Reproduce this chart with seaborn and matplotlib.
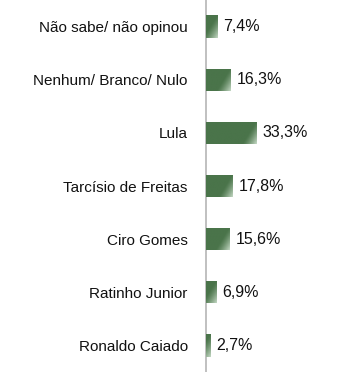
import numpy as np
import pandas as pd
import matplotlib
matplotlib.use('Agg')
import matplotlib.pyplot as plt
import seaborn as sns

categorias = ['Não sabe/ não opinou', 'Nenhum/ Branco/ Nulo', 'Lula', 'Tarcísio de Freitas',
              'Ciro Gomes', 'Ratinho Junior', 'Ronaldo Caiado']
valores = [7.4, 16.3, 33.3, 17.8, 15.6, 6.9, 2.7]
rotulos = ['7,4%', '16,3%', '33,3%', '17,8%', '15,6%', '6,9%', '2,7%']

df = pd.DataFrame({'cat': categorias, 'val': valores})

sns.set_style('white')
plt.rcParams['font.family'] = ['Liberation Sans', 'DejaVu Sans']

fig = plt.figure(figsize=(3.52, 3.72), dpi=100)
ax = fig.add_axes([0.585, 0.0, 0.415, 1.0])
sns.barplot(data=df, x='val', y='cat', orient='h', color='#4a744a', width=0.42,
            saturation=1, ax=ax)

XMAX = 97
ax.set_xlim(0, XMAX)
ax.set_ylim(6.5, -0.5)

# brilho claro no canto inferior direito de cada barra
pxx = 146 / XMAX      # pixels por unidade x
pxy = 372 / 7         # pixels por unidade y
escuro = np.array([0x4a, 0x74, 0x4a]) / 255
claro = np.array([0xc4, 0xd8, 0xc4]) / 255
for p in ax.patches:
    x0, y0 = p.get_x(), p.get_y()
    w, h = p.get_width(), p.get_height()
    nx, ny = 80, 30
    xs = np.linspace(x0, x0 + w, nx)
    ys = np.linspace(y0, y0 + h, ny)
    X, Y = np.meshgrid(xs, ys)
    u = (x0 + w - X) * pxx
    v = (y0 + h - Y) * pxy
    t = np.clip(1 - (u + 0.6 * v) / 14, 0, 1) ** 1.3
    img = escuro[None, None, :] * (1 - t[..., None]) + claro[None, None, :] * t[..., None]
    im = ax.imshow(img, extent=[x0, x0 + w, y0 + h, y0], aspect='auto', zorder=3,
                   interpolation='bilinear')
    im.set_clip_path(p)

for i, (v, r) in enumerate(zip(valores, rotulos)):
    ax.text(v + 4, i, r, va='center', ha='left', fontsize=11.5, color='#111111')

ax.set_xlabel('')
ax.set_ylabel('')
ax.set_xticks([])
for s in ['top', 'right', 'bottom']:
    ax.spines[s].set_visible(False)
ax.spines['left'].set_color('#b5b5b5')
ax.spines['left'].set_linewidth(1.2)

ax.set_yticks(range(len(categorias)))
ax.set_yticklabels(categorias, fontsize=11, color='#111111')
ax.tick_params(axis='y', which='major', length=0, pad=13)
ax.set_yticks(np.arange(-0.5, 7, 1), minor=True)
ax.tick_params(axis='y', which='minor', length=3.5, color='#b5b5b5', width=1.2)

fig.savefig('out.png', dpi=100)
